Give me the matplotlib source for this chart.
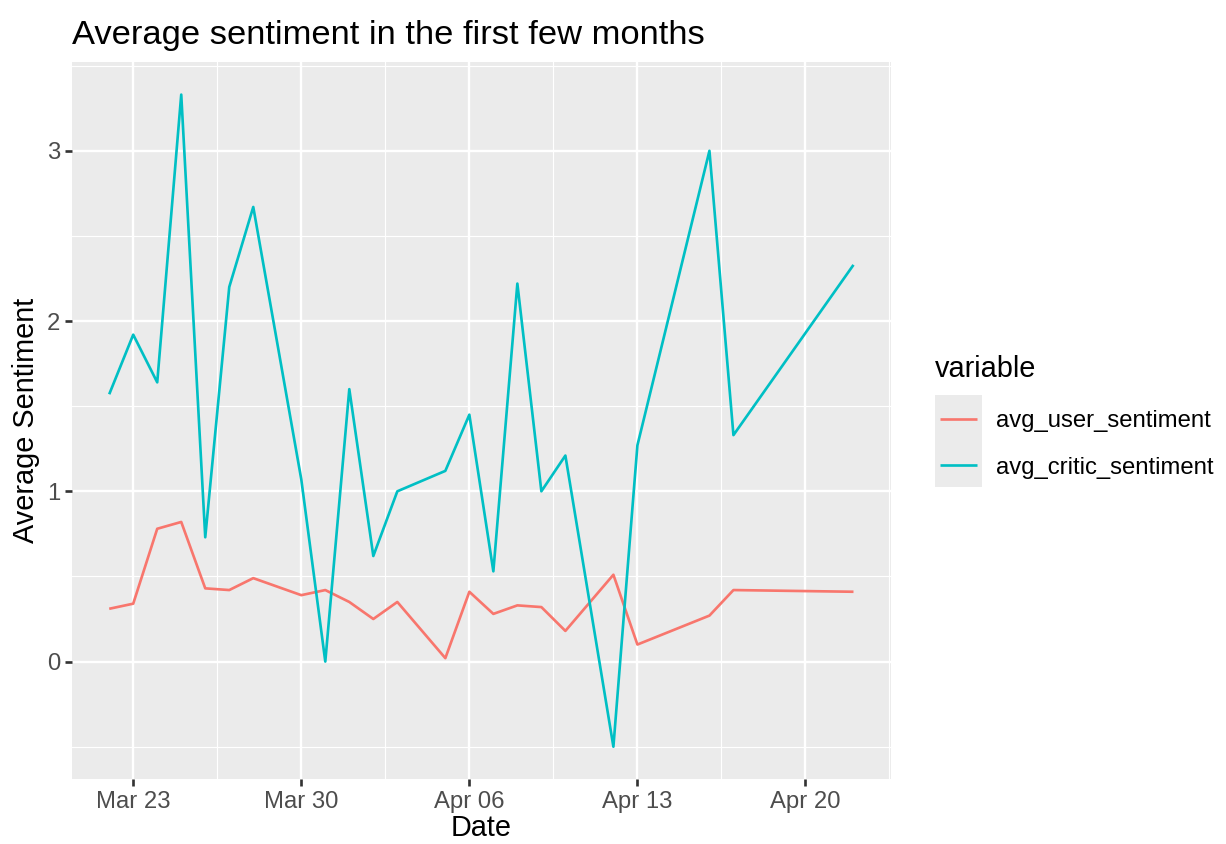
import matplotlib
matplotlib.use("Agg")
import matplotlib.pyplot as plt
import matplotlib.dates as mdates
from matplotlib.patches import Rectangle
import numpy as np
import pandas as pd

# values
dates = ["2020-03-22", "2020-03-23", "2020-03-24", "2020-03-25", "2020-03-26",
         "2020-03-27", "2020-03-28", "2020-03-30", "2020-03-31", "2020-04-01",
         "2020-04-02", "2020-04-03", "2020-04-05", "2020-04-06", "2020-04-07",
         "2020-04-08", "2020-04-09", "2020-04-10", "2020-04-12", "2020-04-13",
         "2020-04-16", "2020-04-17", "2020-04-22"]
avg_user_sentiment = [0.31, 0.34, 0.78, 0.82, 0.43, 0.42, 0.49, 0.39, 0.42, 0.35,
                      0.25, 0.35, 0.02, 0.41, 0.28, 0.33, 0.32, 0.18, 0.51, 0.10,
                      0.27, 0.42, 0.41]
avg_critic_sentiment = [1.57, 1.92, 1.64, 3.33, 0.73, 2.20, 2.67, 1.07, 0.00, 1.60,
                        0.62, 1.00, 1.12, 1.45, 0.53, 2.22, 1.00, 1.21, -0.50, 1.27,
                        3.00, 1.33, 2.33]
series_names = ["avg_user_sentiment", "avg_critic_sentiment"]
series_colors = ["#F8766D", "#00BFC4"]

major_ticks = ["2020-03-23", "2020-03-30", "2020-04-06", "2020-04-13", "2020-04-20"]
minor_ticks = ["2020-03-19 12:00", "2020-03-26 12:00", "2020-04-02 12:00",
               "2020-04-09 12:00", "2020-04-16 12:00", "2020-04-23 12:00"]

x = pd.to_datetime(dates)
W, H = 1226, 844
TXT = 17.2    # axis text / legend labels
TTL = 20.8    # axis titles / legend title
MAIN = 24.8   # plot title

plt.rcParams['font.family'] = ['Liberation Sans', 'DejaVu Sans']
fig = plt.figure(figsize=(W / 100, H / 100), dpi=100)
ax = fig.add_axes([72 / W, (H - 779.3) / H, (890.7 - 72) / W, (779.3 - 62) / H])
ax.set_facecolor("#EBEBEB")
for s in ax.spines.values():
    s.set_visible(False)

lines = []
for vals, name, col in zip([avg_user_sentiment, avg_critic_sentiment], series_names, series_colors):
    ln, = ax.plot(x, vals, color=col, lw=1.92, label=name, solid_capstyle='butt', zorder=3)
    lines.append(ln)

ax.margins(x=0.05, y=0.05)
ax.autoscale_view()
xlim = ax.get_xlim()
ylim = ax.get_ylim()

ax.set_xticks(pd.to_datetime(major_ticks))
ax.set_xticks(pd.to_datetime(minor_ticks), minor=True)
ax.xaxis.set_major_formatter(mdates.DateFormatter("%b %d"))
ax.set_yticks([0, 1, 2, 3])
ax.set_yticks([-0.5, 0.5, 1.5, 2.5, 3.5], minor=True)
ax.set_xlim(xlim)
ax.set_ylim(ylim)

ax.grid(which='major', color='white', lw=1.7, zorder=1)
ax.grid(which='minor', color='white', lw=0.85, zorder=1)
ax.set_axisbelow(True)

ax.tick_params(which='major', length=5, width=1.92, color='#333333',
               labelsize=TXT, labelcolor='#4D4D4D', pad=3.5)
ax.tick_params(which='minor', length=0)

ax.set_xlabel("Date", fontsize=TTL, labelpad=1)
ax.set_ylabel("Average Sentiment", fontsize=TTL, labelpad=5)
ax.set_title("Average sentiment in the first few months", fontsize=MAIN,
             loc='left', pad=13)

# legend: title, grey key background, keys and labels
fig.text(935 / W, (H - 377) / H, "variable", fontsize=TTL, ha='left', va='baseline')
fig.patches.append(Rectangle((935 / W, (H - 487) / H), 47 / W, 92 / H,
                             transform=fig.transFigure, facecolor="#EBEBEB",
                             edgecolor='none', zorder=0))
leg = fig.legend(handles=lines, labels=series_names, loc='upper left',
                 bbox_to_anchor=(933 / W, (H - 403) / H), frameon=False,
                 fontsize=TXT, handlelength=1.55, handletextpad=0.78,
                 labelspacing=1.03, borderaxespad=0, borderpad=0.3)

fig.savefig("out.png", dpi=100)
